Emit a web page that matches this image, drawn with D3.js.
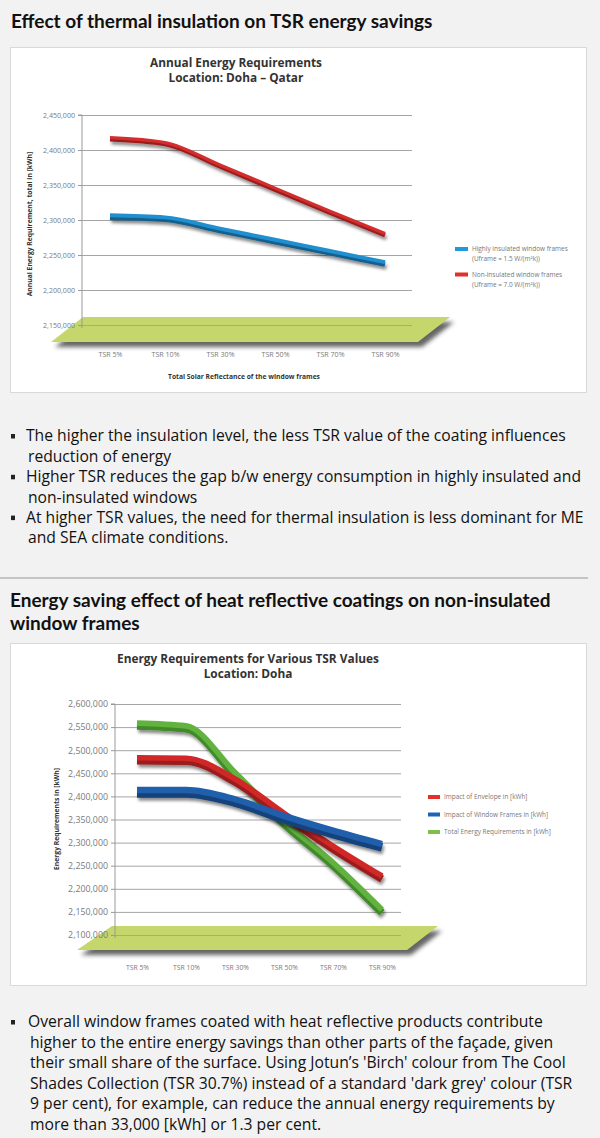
<!DOCTYPE html>
<html><head><meta charset="utf-8">
<script src="https://cdn.jsdelivr.net/npm/d3@7"></script>
<style>body{margin:0;background:#f2f2f2}svg{display:block}</style>
</head><body>
<svg id="c" width="600" height="1138"></svg>
<script>
// ---------- data ----------
const categories = ["TSR 5%", "TSR 10%", "TSR 30%", "TSR 50%", "TSR 70%", "TSR 90%"];
// chart 1: Annual Energy Requirements, Doha – Qatar
const highlyInsulated = [2306000, 2303000, 2287000, 2271000, 2255000, 2239000];
const nonInsulated    = [2417000, 2410000, 2378000, 2345000, 2312000, 2280000];
const ticks1 = [2150000, 2200000, 2250000, 2300000, 2350000, 2400000, 2450000];
// chart 2: Energy Requirements for Various TSR Values, Doha
const envelopeImpact = [2482000, 2481000, 2436000, 2362000, 2291000, 2226000];
const windowImpact   = [2412000, 2412000, 2392000, 2356000, 2324000, 2295000];
const totalEnergy    = [2557000, 2551000, 2450000, 2345000, 2255000, 2153000];
const ticks2 = [2100000, 2150000, 2200000, 2250000, 2300000, 2350000, 2400000, 2450000, 2500000, 2550000, 2600000];

const heading1 = "Effect of thermal insulation on TSR energy savings";
const heading2 = ["Energy saving effect of heat reflective coatings on non-insulated", "window frames"];
const bullets1 = [
  ["The higher the insulation level, the less TSR value of the coating influences", "reduction of energy"],
  ["Higher TSR reduces the gap b/w energy consumption in highly insulated and", "non-insulated windows"],
  ["At higher TSR values, the need for thermal insulation is less dominant for ME", "and SEA climate conditions."]
];
const bullets2 = [
  ["Overall window frames coated with heat reflective products contribute",
   "higher to the entire energy savings than other parts of the façade, given",
   "their small share of the surface. Using Jotun’s 'Birch' colour from The Cool",
   "Shades Collection (TSR 30.7%) instead of a standard 'dark grey' colour (TSR",
   "9 per cent), for example, can reduce the annual energy requirements by",
   "more than 33,000 [kWh] or 1.3 per cent."]
];

// ---------- helpers ----------
const svg = d3.select("#c");
const FONT = "'Open Sans', 'Noto Sans', sans-serif";
const HFONT = "Lato, 'Open Sans', sans-serif";
function fitSize(str, target, weight, fam) {
  const t = svg.append("text").attr("font-family", fam || FONT).attr("font-size", 10)
    .attr("font-weight", weight || 400).text(str);
  const w = t.node().getComputedTextLength(); t.remove();
  return 10 * target / w;
}
const defs = svg.append("defs");
const f1 = defs.append("filter").attr("id", "shadow").attr("x", "-10%").attr("y", "-30%").attr("width", "130%").attr("height", "180%");
f1.append("feDropShadow").attr("dx", 1.5).attr("dy", 3).attr("stdDeviation", 1.6).attr("flood-color", "#000").attr("flood-opacity", 0.45);
const f2 = defs.append("filter").attr("id", "blur").attr("x", "-10%").attr("y", "-50%").attr("width", "120%").attr("height", "200%");
f2.append("feGaussianBlur").attr("stdDeviation", 2.2);
const f3 = defs.append("filter").attr("id", "gblur").attr("x", "-5%").attr("y", "-300%").attr("width", "110%").attr("height", "700%");
f3.append("feGaussianBlur").attr("stdDeviation", 1.6);

// ---------- headings & text ----------
svg.append("text").attr("x", 11).attr("y", 21).attr("dy", "0.35em")
  .attr("font-family", HFONT).attr("font-weight", 700).attr("fill", "#111")
  .attr("font-size", Math.min(19, fitSize(heading1, 429, 700, HFONT))).text(heading1);

const h2size = Math.min(19, fitSize(heading2[0], 555, 700, HFONT));
heading2.forEach((s, i) => svg.append("text").attr("x", 10).attr("y", 600 + i * 23).attr("dy", "0.35em")
  .attr("font-family", HFONT).attr("font-weight", 700).attr("fill", "#111").attr("font-size", h2size).text(s));

function bulletBlock(blocks, top, lineH, target, textX) {
  const fs = fitSize(blocks[0][0], target, 400);
  let y = top;
  blocks.forEach(b => {
    svg.append("rect").attr("x", 11).attr("y", y - 2).attr("width", 4).attr("height", 4.5).attr("fill", "#222");
    b.forEach((s, i) => {
      svg.append("text").attr("x", textX + (i ? 2 : 0)).attr("y", y).attr("dy", "0.35em")
        .attr("font-family", FONT).attr("font-size", fs).attr("fill", "#111").text(s);
      y += lineH;
    });
  });
}
bulletBlock(bullets1, 436, 20.4, 540, 26);
bulletBlock(bullets2, 1022, 20.5, 515, 28);

svg.append("line").attr("x1", 0).attr("x2", 588).attr("y1", 578).attr("y2", 578)
  .attr("stroke", "#c4c4c4").attr("stroke-width", 2);

// ---------- chart drawing ----------
function drawChart(c) {
  svg.append("rect").attr("x", 10.5).attr("y", c.panelTop + 0.5).attr("width", 576).attr("height", c.panelH)
    .attr("fill", "#fff").attr("stroke", "#d9d9d9");
  const g = svg.append("g");
  const y = d3.scaleLinear().domain(c.domain).range(c.yRange);
  const x = d3.scalePoint().domain(categories).range(c.xRange);

  // titles
  const ts = fitSize(c.title[0], c.titleW, 700);
  c.title.forEach((s, i) => g.append("text").attr("x", c.titleX).attr("y", c.titleY + i * c.titleGap).attr("dy", "0.35em")
    .attr("text-anchor", "middle").attr("font-family", FONT).attr("font-weight", 700)
    .attr("font-size", ts).attr("fill", "#333").text(s));

  // floor
  const fl = c.floor;
  const pts = [[fl.tl, fl.top], [fl.tr, fl.top], [fl.br, fl.bottom], [fl.bl, fl.bottom]];
  g.append("polygon").attr("points", pts.map(p => [p[0] + 4, p[1] + 5].join(",")).join(" "))
    .attr("fill", "#333").attr("opacity", 0.75).attr("filter", "url(#blur)");
  g.append("polygon").attr("points", pts.map(p => p.join(",")).join(" ")).attr("fill", "#c5d76c");

  // grid shadow
  c.ticks.forEach(t => g.append("line").attr("x1", c.axisX).attr("x2", c.gridRight)
    .attr("y1", y(t) + 3).attr("y2", y(t) + 3).attr("stroke", "#000").attr("stroke-opacity", 0.10)
    .attr("stroke-width", 3).attr("filter", "url(#gblur)"));
  // grid
  const grid = g.append("g").attr("transform", `translate(${c.axisX},0)`)
    .call(d3.axisLeft(y).tickValues(c.ticks).tickSize(-(c.gridRight - c.axisX)).tickFormat(""));
  grid.select(".domain").remove();
  grid.selectAll(".tick line").attr("stroke", "#a5a5a5").attr("stroke-width", 1);

  // vertical axis shadow + axis
  g.append("line").attr("x1", c.axisX + 4).attr("x2", c.axisX + 4).attr("y1", c.yRange[1]).attr("y2", c.yRange[0] + 2)
    .attr("stroke", "#000").attr("stroke-opacity", 0.12).attr("stroke-width", 5).attr("filter", "url(#gblur)");
  const ya = g.append("g").attr("transform", `translate(${c.axisX},0)`)
    .call(d3.axisLeft(y).tickValues(c.ticks).tickSize(4).tickPadding(3).tickFormat(d3.format(",")));
  ya.select(".domain").attr("stroke", "#999").attr("d", `M-4,${c.yRange[1]}H0V${c.yRange[0] + 3}`);
  ya.selectAll(".tick line").attr("stroke", "#999");
  const tfs = fitSize("2,450,000", c.tickW, 400);
  ya.selectAll("text").attr("font-family", FONT).attr("font-size", tfs).attr("fill", "#7a7a7a");

  // x labels
  const xa = g.append("g").attr("transform", `translate(0,${c.xLabelY})`)
    .call(d3.axisBottom(x).tickSize(0).tickPadding(0));
  xa.select(".domain").remove();
  xa.selectAll("text").attr("font-family", FONT).attr("font-size", fitSize("TSR 5%", c.xLabW, 400))
    .attr("fill", "#7a7a7a").attr("dy", "0.35em");

  // axis titles
  g.append("text").attr("transform", `translate(${c.yTitle.x},${c.yTitle.y}) rotate(-90)`).attr("dy", "0.35em")
    .attr("text-anchor", "middle").attr("font-family", FONT).attr("font-weight", 700).attr("fill", "#333")
    .attr("font-size", fitSize(c.yTitle.text, c.yTitle.w, 700)).text(c.yTitle.text);
  if (c.xTitle) g.append("text").attr("x", c.xTitle.x).attr("y", c.xTitle.y).attr("dy", "0.35em")
    .attr("text-anchor", "middle").attr("font-family", FONT).attr("font-weight", 700).attr("fill", "#333")
    .attr("font-size", fitSize(c.xTitle.text, c.xTitle.w, 700)).text(c.xTitle.text);

  // series ribbons
  const line = d3.line().x((d, i) => x(categories[i])).y(d => y(d)).curve(d3.curveMonotoneX);
  c.series.forEach(s => {
    g.append("path").attr("d", line(s.values)).attr("fill", "none").attr("stroke", s.dark)
      .attr("stroke-width", s.w).attr("transform", `translate(0,${s.w * 0.3})`).attr("filter", "url(#shadow)");
    g.append("path").attr("d", line(s.values)).attr("fill", "none").attr("stroke", s.color)
      .attr("stroke-width", s.w * 0.75).attr("transform", `translate(0,${-s.w * 0.1})`);
  });

  // legend
  const lfs = fitSize(c.legend.ref, c.legend.refW, 400);
  c.legend.items.forEach((it, i) => {
    const ly = c.legend.y + i * c.legend.gap;
    g.append("rect").attr("x", c.legend.x).attr("y", ly - 2).attr("width", c.legend.sw).attr("height", 4).attr("fill", it.color);
    it.text.forEach((t, j) => g.append("text").attr("x", c.legend.x + c.legend.sw + 4).attr("y", ly + j * 10)
      .attr("dy", "0.35em").attr("font-family", FONT).attr("font-size", lfs).attr("fill", "#777").text(t));
  });
}

drawChart({
  panelTop: 47, panelH: 345,
  domain: [2150000, 2450000], yRange: [325, 115], xRange: [110, 385],
  ticks: ticks1, axisX: 82, gridRight: 412, tickW: 32,
  title: ["Annual Energy Requirements", "Location: Doha – Qatar"], titleX: 236, titleY: 63, titleGap: 14.5, titleW: 172,
  floor: { top: 317, bottom: 342, tl: 83, tr: 450, bl: 51, br: 418 },
  xLabelY: 354, xLabW: 24,
  yTitle: { text: "Annual Energy Requirement, total in [kWh]", x: 30, y: 224, w: 145 },
  xTitle: { text: "Total Solar Reflectance of the window frames", x: 244, y: 377, w: 152 },
  series: [
    { values: nonInsulated, color: "#d42d2d", dark: "#9c1c1c", w: 4.2 },
    { values: highlyInsulated, color: "#1f8fcf", dark: "#145f8c", w: 5.2 }
  ],
  legend: { x: 455, y: 249, gap: 25.5, sw: 13, ref: "Highly insulated window frames", refW: 96,
    items: [
      { color: "#1e9ad8", text: ["Highly insulated window frames", "(Uframe = 1.5 W/(m²k))"] },
      { color: "#e2302b", text: ["Non-insulated window frames", "(Uframe = 7.0 W/(m²k))"] }
    ] }
});

drawChart({
  panelTop: 643, panelH: 342,
  domain: [2100000, 2600000], yRange: [935, 704], xRange: [137, 382],
  ticks: ticks2, axisX: 115, gridRight: 401, tickW: 40,
  title: ["Energy Requirements for Various TSR Values", "Location: Doha"], titleX: 248, titleY: 659, titleGap: 15, titleW: 262,
  floor: { top: 926, bottom: 950, tl: 112, tr: 438, bl: 77, br: 407 },
  xLabelY: 968, xLabW: 23,
  yTitle: { text: "Energy Requirements in [kWh]", x: 57, y: 819, w: 102 },
  series: [
    { values: totalEnergy, color: "#62b23f", dark: "#3f8a2a", w: 7.5 },
    { values: envelopeImpact, color: "#d12727", dark: "#9a1b1b", w: 7.5 },
    { values: windowImpact, color: "#1f5fab", dark: "#15427c", w: 8.5 }
  ],
  legend: { x: 428, y: 797, gap: 17.5, sw: 12, ref: "Total Energy Requirements in [kWh]", refW: 107,
    items: [
      { color: "#e2302b", text: ["Impact of Envelope in [kWh]"] },
      { color: "#1d64b5", text: ["Impact of Window Frames in [kWh]"] },
      { color: "#7cc04b", text: ["Total Energy Requirements in [kWh]"] }
    ] }
});
</script>
</body></html>
